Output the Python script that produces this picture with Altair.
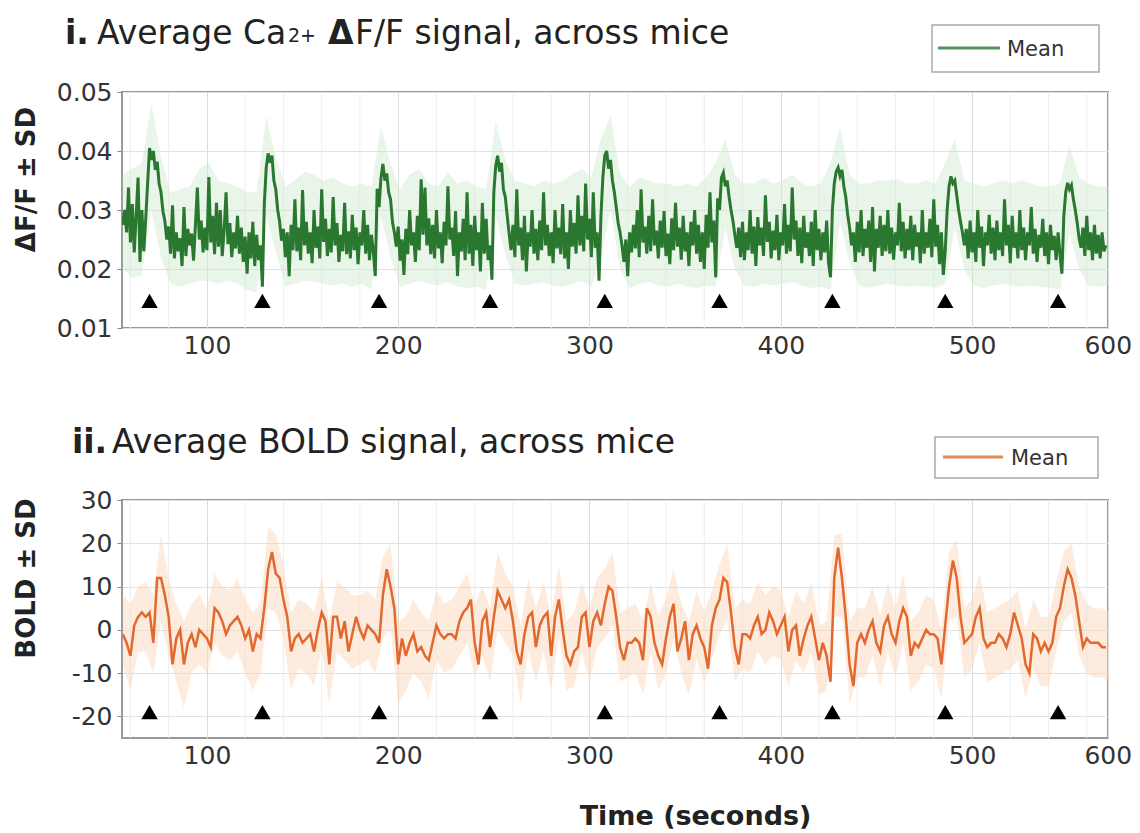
import altair as alt
import pandas as pd

FONT = "DejaVu Sans"
GREEN = "#2a772f"
GREEN_BAND = "#cfe9cb"
ORANGE = "#e2692d"
ORANGE_BAND = "#fbd8bd"

# ---------------- data ----------------
# Panel i: mean Ca2+ dF/F, one value per second from t = 56 s, in units of 1e-4
GREEN_T0, GREEN_DT = 56, 1
GREEN_MEAN = [
    275, 300, 262, 338, 245, 310, 228, 290, 355, 212,
    300, 230, 285, 345, 405, 385, 400, 368, 382, 345,
    330, 298, 282, 250, 272, 226, 308, 218, 262, 230,
    252, 205, 305, 222, 268, 240, 260, 214, 275, 338,
    250, 282, 228, 270, 232, 356, 245, 290, 225, 312,
    238, 300, 222, 265, 330, 242, 278, 220, 262, 235,
    290, 226, 270, 212, 255, 192, 262, 218, 280, 205,
    258, 215, 240, 170, 310, 372, 396, 380, 392, 350,
    335, 300, 280, 248, 268, 220, 262, 188, 275, 232,
    318, 230, 270, 215, 334, 240, 280, 226, 262, 210,
    300, 236, 272, 218, 335, 246, 285, 222, 268, 228,
    322, 240, 278, 212, 258, 230, 312, 225, 264, 218,
    292, 232, 270, 208, 262, 240, 300, 226, 275, 215,
    258, 230, 188, 336, 305, 355, 378, 350, 362, 330,
    318, 280, 262, 238, 272, 214, 250, 190, 268, 225,
    300, 240, 262, 212, 290, 232, 352, 258, 338, 240,
    286, 225, 275, 218, 300, 235, 262, 210, 280, 240,
    340, 250, 270, 222, 298, 188, 262, 230, 285, 215,
    330, 226, 275, 205, 290, 232, 262, 196, 312, 226,
    285, 215, 240, 182, 330, 375, 392, 365, 380, 335,
    322, 290, 260, 232, 275, 220, 335, 240, 270, 215,
    290, 196, 262, 238, 300, 226, 268, 215, 282, 232,
    330, 240, 275, 222, 262, 210, 300, 235, 270, 225,
    310, 218, 262, 200, 300, 238, 278, 226, 325, 240,
    290, 230, 345, 250, 285, 220, 330, 236, 262, 180,
    290, 355, 392, 400, 370, 385, 350, 330, 305, 278,
    262, 240, 212, 250, 188, 262, 228, 275, 235, 300,
    220, 335, 245, 272, 226, 290, 230, 318, 240, 265,
    218, 282, 236, 298, 222, 260, 208, 286, 232, 312,
    238, 270, 216, 290, 230, 262, 205, 280, 240, 300,
    226, 275, 212, 262, 200, 292, 236, 330, 245, 282,
    186, 320, 300, 355, 363, 340, 350, 322, 300, 282,
    258, 236, 270, 220, 280, 215, 262, 232, 300, 226,
    272, 205, 288, 240, 270, 222, 325, 246, 280, 218,
    265, 232, 292, 215, 262, 240, 310, 226, 275, 230,
    338, 250, 282, 222, 270, 210, 290, 236, 262, 222,
    280, 205, 300, 232, 268, 215, 262, 228, 282, 210,
    186, 300, 345, 365, 372, 358, 368, 340, 322, 292,
    270, 240, 262, 212, 280, 228, 300, 222, 268, 236,
    282, 212, 305, 196, 268, 236, 290, 222, 275, 230,
    300, 226, 270, 216, 262, 240, 312, 230, 280, 218,
    268, 232, 290, 215, 275, 238, 262, 210, 300, 226,
    262, 236, 285, 220, 318, 238, 275, 208, 262, 190,
    230, 300, 340, 357, 345, 350, 325, 300, 280, 262,
    240, 268, 218, 282, 228, 262, 212, 300, 236, 272,
    205, 262, 240, 292, 226, 270, 215, 282, 232, 262,
    222, 318, 240, 275, 210, 290, 236, 262, 218, 300,
    232, 270, 215, 262, 240, 305, 226, 268, 212, 258,
    236, 285, 222, 262, 208, 275, 232, 256, 215, 262,
    225, 192, 290, 330, 346, 335, 342, 318, 300, 278,
    252, 236, 270, 222, 290, 232, 262, 215, 275, 226,
    258, 218, 262, 230, 240,
]
# Panel i: +/- SD envelope, every 5 s from t = 56 s, units of 1e-4
GREEN_BAND_T0, GREEN_BAND_DT = 56, 5
GREEN_LO = [
    200, 185, 190, 300, 220, 175, 170, 175, 180, 180,
    175, 180, 175, 165, 160, 290, 230, 170, 175, 180,
    178, 175, 172, 175, 170, 175, 165, 290, 220, 170,
    175, 180, 175, 172, 178, 170, 168, 170, 165, 290,
    225, 175, 172, 175, 178, 172, 170, 175, 180, 170,
    220, 300, 200, 168, 175, 178, 172, 170, 175, 170,
    168, 172, 170, 270, 200, 172, 170, 175, 172, 175,
    178, 172, 168, 170, 165, 280, 210, 172, 168, 172,
    175, 172, 170, 172, 170, 168, 175, 270, 200, 172,
    168, 172, 175, 172, 170, 172, 170, 168, 165, 260,
    200, 172, 170, 172,
]
GREEN_HI = [
    360, 370, 380, 480, 390, 330, 335, 340, 370, 380,
    350, 345, 340, 330, 330, 460, 390, 340, 350, 365,
    360, 350, 355, 345, 340, 345, 340, 440, 380, 335,
    360, 370, 345, 340, 365, 345, 350, 340, 335, 450,
    385, 350, 345, 340, 350, 345, 350, 360, 370, 355,
    420, 460, 360, 340, 355, 350, 345, 345, 340, 345,
    340, 355, 380, 420, 360, 345, 345, 355, 345, 350,
    360, 345, 340, 345, 380, 440, 360, 345, 345, 350,
    350, 352, 345, 345, 350, 345, 380, 420, 350, 345,
    340, 345, 350, 345, 350, 345, 340, 340, 345, 410,
    355, 345, 340, 340,
]

# Panel ii: mean BOLD, every 2 s from t = 56 s
BOLD_T0, BOLD_DT = 56, 2
BOLD_MEAN = [
    -1, -3, -6, 1, 3, 4, 3, 4, -3, 12,
    12, 8, 3, -8, -2, 0, -8, -3, -1, -4,
    0, -1, -2, -4, 5, 4, 2, -1, 1, 2,
    3, 1, -2, 0, -5, -1, -2, 5, 14, 18,
    13, 12, 7, 3, -5, -2, -1, -3, -2, -1,
    -5, 0, 4, 2, -8, 3, 3, -2, 2, -5,
    -1, 3, 0, -2, 1, 0, -1, -3, 8, 14,
    10, 5, -8, -2, -6, -3, -1, -5, -4, -6,
    -7, -3, 1, -1, -2, -1, -1, -2, 2, 4,
    5, 7, -3, -8, 2, 4, -4, 3, 9, 7,
    5, 7, 2, -5, -8, -1, 3, 4, -4, 1,
    3, 4, -6, 3, 7, 0, -6, -8, -5, -4,
    3, 4, -4, 2, 4, 1, 6, 10, 9, 3,
    -4, -7, -3, -3, -2, -3, -7, 5, 3, -3,
    -6, -8, -2, 3, 6, -5, -2, 2, -7, -1,
    1, -2, -4, -9, 1, 5, 7, 12, 11, 4,
    -4, -8, -1, -1, -2, 1, 3, -1, 0, 4,
    2, -1, 1, 3, -5, 0, 1, -6, -2, 1,
    3, -2, -7, -3, -6, -12, 12, 19, 12, 3,
    -8, -13, -3, -1, -3, 0, 2, -3, -5, 1,
    3, -1, -3, 2, 5, 3, -6, -3, -4, -2,
    0, -1, -1, -2, -8, 1, 10, 16, 12, 3,
    -3, -2, -1, 3, 5, -2, -4, -3, -3, -1,
    -2, -4, -1, 4, 1, -2, -8, -10, -1, -2,
    -5, -3, -5, -3, 3, 5, 10, 14, 12, 8,
    2, -4, -2, -3, -3, -3, -4, -4,
]
# Panel ii: +/- SD envelope, every 4 s from t = 56 s
BOLD_BAND_T0, BOLD_BAND_DT = 56, 4
BOLD_LO = [
    -8, -14, -5, -5, -10, 2, -6, -12, -18, -10,
    -8, -10, -3, -6, -7, -5, -10, -14, -10, 5,
    4, -2, -14, -9, -10, -13, -4, -17, -5, -7,
    -9, -8, -7, -10, -2, 0, -17, -14, -10, -12,
    -16, -7, -10, -9, -6, -3, -11, -6, -12, 0,
    -3, -6, -17, -5, -12, -5, -14, -1, -14, -13,
    -5, -12, -4, -2, 1, -12, -11, -10, -15, -5,
    -14, -10, -2, -10, -15, -7, -12, -7, -1, 2,
    -12, -9, -10, -5, -8, -6, -7, -13, -7, -10,
    -5, -15, -14, 3, 3, -17, -11, -11, -6, -13,
    -5, -11, -3, -14, -12, -8, -9, -16, 2, 3,
    -11, -9, -3, -12, -11, -10, -9, -7, -16, -9,
    -13, -13, -5, 2, 4, -6, -10, -11, -11, -12,
]
BOLD_HI = [
    8, 6, 10, 11, 8, 22, 12, 6, 2, 6,
    8, 5, 13, 10, 9, 12, 7, 4, 6, 24,
    22, 15, 4, 7, 6, 4, 12, 2, 11, 10,
    8, 8, 9, 7, 17, 20, 2, 3, 7, 4,
    2, 9, 6, 7, 10, 13, 6, 10, 5, 18,
    13, 10, 1, 12, 5, 11, 3, 15, 2, 4,
    11, 5, 12, 14, 18, 4, 5, 6, 2, 11,
    3, 7, 14, 6, 2, 9, 4, 9, 15, 20,
    5, 7, 6, 11, 8, 10, 9, 3, 9, 6,
    11, 1, 2, 22, 22, 2, 5, 5, 10, 3,
    11, 5, 13, 2, 4, 8, 7, 0, 18, 21,
    5, 7, 13, 4, 5, 6, 7, 9, 0, 7,
    3, 3, 11, 18, 20, 10, 6, 5, 5, 4,
]

# Stimulus onsets (triangles), seconds
STIM_T = [70, 129, 190, 248, 308, 368, 427, 486, 545]
STIM_Y_CA = 0.0146
STIM_Y_BOLD = -19

# Axes
X_DOMAIN = [55.6, 571.1]
X_TICKS = [100, 200, 300, 400, 500, 571]
X_MINOR = [60, 80, 120, 140, 160, 180, 220, 240, 260, 280, 320, 340,
           360, 380, 420, 440, 460, 480, 520, 540, 560]
CA_DOMAIN = [0.01, 0.05]
CA_TICKS = [0.01, 0.02, 0.03, 0.04, 0.05]
BOLD_DOMAIN = [-25, 30]
BOLD_TICKS = [-20, -10, 0, 10, 20, 30]
LEGEND_LABEL = "Mean"

W = 986
H1 = 236
H2 = 238

# ---------------- tables ----------------
ca_df = pd.DataFrame({
    "t": [GREEN_T0 + GREEN_DT * i for i in range(len(GREEN_MEAN))],
    "v": [x / 1e4 for x in GREEN_MEAN],
})
ca_band = pd.DataFrame({
    "t": [GREEN_BAND_T0 + GREEN_BAND_DT * i for i in range(len(GREEN_LO))],
    "lo": [x / 1e4 for x in GREEN_LO],
    "hi": [x / 1e4 for x in GREEN_HI],
})
bold_df = pd.DataFrame({
    "t": [BOLD_T0 + BOLD_DT * i for i in range(len(BOLD_MEAN))],
    "v": BOLD_MEAN,
})
bold_band = pd.DataFrame({
    "t": [BOLD_BAND_T0 + BOLD_BAND_DT * i for i in range(len(BOLD_LO))],
    "lo": BOLD_LO,
    "hi": BOLD_HI,
})
minor_df = pd.DataFrame({"t": X_MINOR})
one = pd.DataFrame({"a": [0]})

xs = alt.Scale(domain=X_DOMAIN, nice=False, zero=False)


def x_axis(title):
    kw = dict(
        values=X_TICKS,
        labelExpr="datum.value > 560 ? '600' : datum.label",
        labelFont=FONT, labelFontSize=25, labelColor="#333",
        labelPadding=5, labelFlush=False, labelOverlap=False, labelBound=False,
        ticks=False, domain=False,
        grid=True, gridColor="#dcdcdc", gridWidth=1,
    )
    if title:
        kw.update(title=title, titleFont=FONT, titleFontSize=27,
                  titleFontWeight="bold", titleColor="#222",
                  titleX=573, titleY=86, titleAlign="center",
                  titleBaseline="alphabetic")
    else:
        kw.update(title=None)
    return alt.Axis(**kw)


def y_axis(title, values, label_expr, title_y):
    return alt.Axis(
        values=values, labelExpr=label_expr, title=title,
        labelFont=FONT, labelFontSize=25, labelColor="#333", labelPadding=5,
        tickSize=5, tickColor="#888", domain=False,
        grid=True, gridColor="#e0e0e0", gridWidth=1,
        titleFont=FONT, titleFontSize=26, titleFontWeight="bold",
        titleColor="#222", titleX=-96, titleY=title_y, titleAngle=270,
        titleAlign="center", titleBaseline="middle",
    )


def text(s, x, y, size=33, weight="normal", color="#222"):
    return alt.Chart(one).mark_text(
        text=s, font=FONT, fontSize=size, fontWeight=weight,
        align="left", baseline="alphabetic", color=color,
    ).encode(x=alt.value(x), y=alt.value(y))


def anchor(x, y):
    return alt.Chart(one).mark_point(opacity=0, size=1, strokeWidth=0).encode(
        x=alt.value(x), y=alt.value(y))


def legend_box(x0, x1, y0, y1, lx0, lx1, ly, tx, ty, color):
    box = alt.Chart(one).mark_rect(
        fill="white", stroke="#aaaaaa", strokeWidth=1.5).encode(
        x=alt.value(x0), x2=alt.value(x1), y=alt.value(y0), y2=alt.value(y1))
    key = alt.Chart(one).mark_rule(
        color=color, strokeWidth=3, opacity=0.8).encode(
        x=alt.value(lx0), x2=alt.value(lx1), y=alt.value(ly))
    lab = text(LEGEND_LABEL, tx, ty, size=21, color="#333")
    return [box, key, lab]


def panel(mean_df, band_df, color, band_color, band_opacity, ydom, yticks,
          label_expr, ytitle, ytitle_y, stim_y, xtitle, extra_layers,
          width_line, height):
    ys = alt.Scale(domain=ydom, nice=False, zero=False)
    xax = x_axis(xtitle)
    yax = y_axis(ytitle, yticks, label_expr, ytitle_y)
    minor = alt.Chart(minor_df).mark_rule(color="#eeeeee", strokeWidth=1).encode(
        x=alt.X("t:Q", scale=xs, axis=xax))
    band = alt.Chart(band_df).mark_area(
        color=band_color, opacity=band_opacity, clip=True).encode(
        x=alt.X("t:Q", scale=xs, axis=xax),
        y=alt.Y("lo:Q", scale=ys, axis=yax),
        y2="hi:Q")
    line = alt.Chart(mean_df).mark_line(
        color=color, strokeWidth=width_line, clip=True).encode(
        x=alt.X("t:Q", scale=xs, axis=xax),
        y=alt.Y("v:Q", scale=ys, axis=yax))
    stim = alt.Chart(pd.DataFrame({"t": STIM_T, "y": [stim_y] * len(STIM_T)})).mark_point(
        shape="triangle-up", filled=True, color="black", opacity=1, size=270).encode(
        x=alt.X("t:Q", scale=xs, axis=xax),
        y=alt.Y("y:Q", scale=ys, axis=yax))
    return alt.layer(minor, band, line, stim, *extra_layers).properties(
        width=W, height=height)


p1 = panel(
    ca_df, ca_band, GREEN, GREEN_BAND, 0.45, CA_DOMAIN, CA_TICKS,
    "format(datum.value, '.2f')", "ΔF/F ± SD", 87, STIM_Y_CA, None,
    [text("i.", -57, -48, weight="bold"),
     text("Average Ca", -25, -48),
     text("2+", 166, -50, size=19),
     text("Δ", 206, -48, weight="bold"),
     text("F/F signal, across mice", 233, -48),
     *legend_box(810, 977, -67, -20, 816, 878, -44, 885, -36, GREEN),
     anchor(-120, -90), anchor(-120, 298)],
    3, H1,
)
p2 = panel(
    bold_df, bold_band, ORANGE, ORANGE_BAND, 0.5, BOLD_DOMAIN, BOLD_TICKS,
    "'' + datum.value", "BOLD ± SD", 78, STIM_Y_BOLD, "Time (seconds)",
    [text("ii.", -50, -47, weight="bold"),
     text("Average BOLD signal, across mice", -10, -47),
     *legend_box(813, 976, -63, -22, 821, 881, -43, 889, -35, ORANGE),
     anchor(-120, -106)],
    2.5, H2,
)

chart = alt.vconcat(p1, p2, spacing=0).properties(padding=0).configure(
    font=FONT).configure_view(stroke="#999999", strokeWidth=2)

chart.save("out.html", embed_options={"renderer": "svg", "actions": False})
